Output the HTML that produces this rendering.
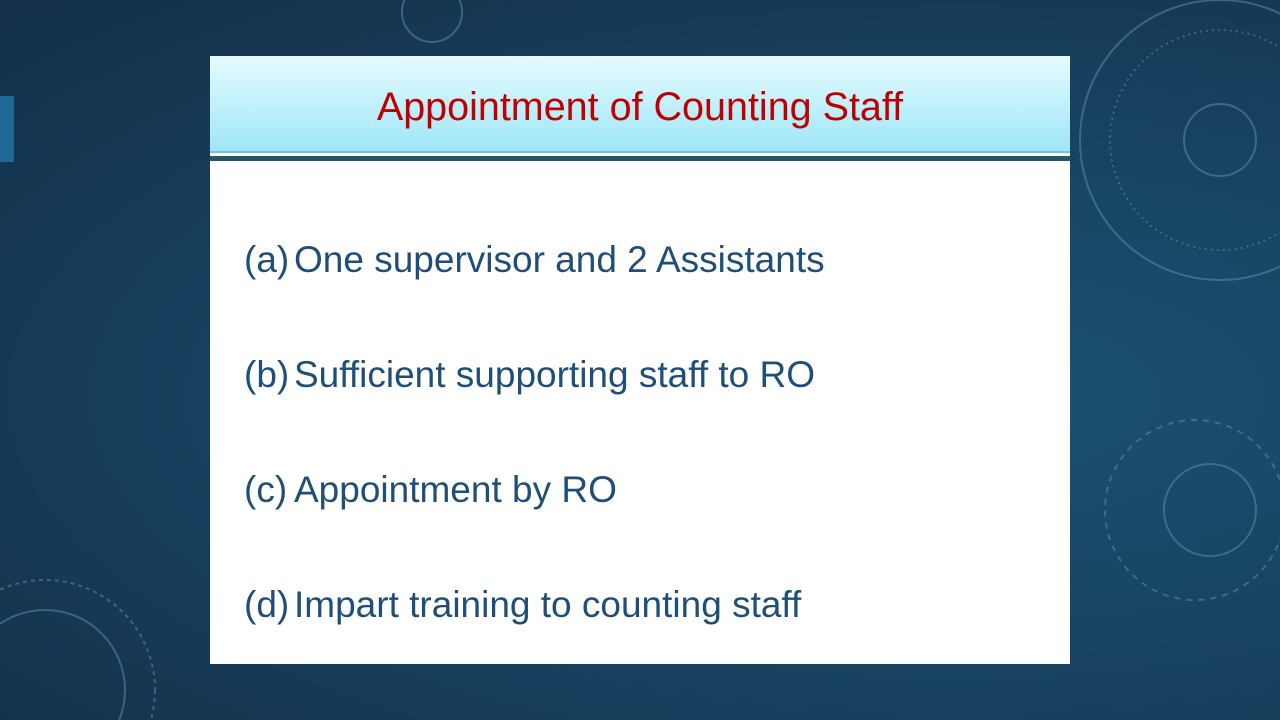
<!DOCTYPE html>
<html><head><meta charset="utf-8"><style>
body{margin:0;width:1280px;height:720px;overflow:hidden;font-family:"Liberation Sans",sans-serif;
background:radial-gradient(ellipse at 75% 55%,#1b5273 0%,#17405e 55%,#142f48 100%);position:relative}
.deco{position:absolute;left:0;top:0;display:block}
#accent{position:absolute;left:0;top:96px;width:14px;height:66px;background:#1f6a94}
#card{position:absolute;left:210px;top:56px;width:860px;height:608px;background:#fff;overflow:hidden}
#hdr{position:absolute;left:0;top:0;width:860px;height:95px;background:linear-gradient(#e6fbff,#9fe6f8)}
#l1{position:absolute;left:0;top:95px;width:860px;height:2px;background:#6cc6da}
#l2{position:absolute;left:0;top:100px;width:860px;height:5px;background:#24566a}
#title{position:absolute;left:0;width:860px;top:28px;line-height:46px;text-align:center;color:#c00000;font-size:39.5px}
.item{position:absolute;left:34px;color:#1f4e79;font-size:37px;line-height:44px;white-space:nowrap}
.item span{display:inline-block;width:50px}
</style></head><body>
<svg class="deco" width="1280" height="720">
<g fill="none" stroke="#5b8aa8" stroke-opacity=".55" stroke-width="2">
<circle cx="1220" cy="140" r="140"/><circle cx="1220" cy="140" r="36"/><circle cx="1220" cy="140" r="110" stroke-dasharray="2 4"/>
<circle cx="1210" cy="510" r="46"/><circle cx="1195" cy="510" r="90" stroke-dasharray="6 6"/>
<circle cx="45" cy="690" r="80"/><circle cx="45" cy="690" r="110" stroke-dasharray="4 4"/>
<circle cx="432" cy="12" r="30"/>
</g></svg>
<div id="accent"></div>
<div id="card">
<div id="hdr"><div id="title">Appointment of Counting Staff</div></div>
<div id="l1"></div>
<div id="l2"></div>
<div class="item" style="top:182px"><span>(a)</span>One supervisor and 2 Assistants</div>
<div class="item" style="top:297px"><span>(b)</span>Sufficient supporting staff to RO</div>
<div class="item" style="top:412px"><span>(c)</span>Appointment by RO</div>
<div class="item" style="top:527px"><span>(d)</span>Impart training to counting staff</div>
</div>
</body></html>
